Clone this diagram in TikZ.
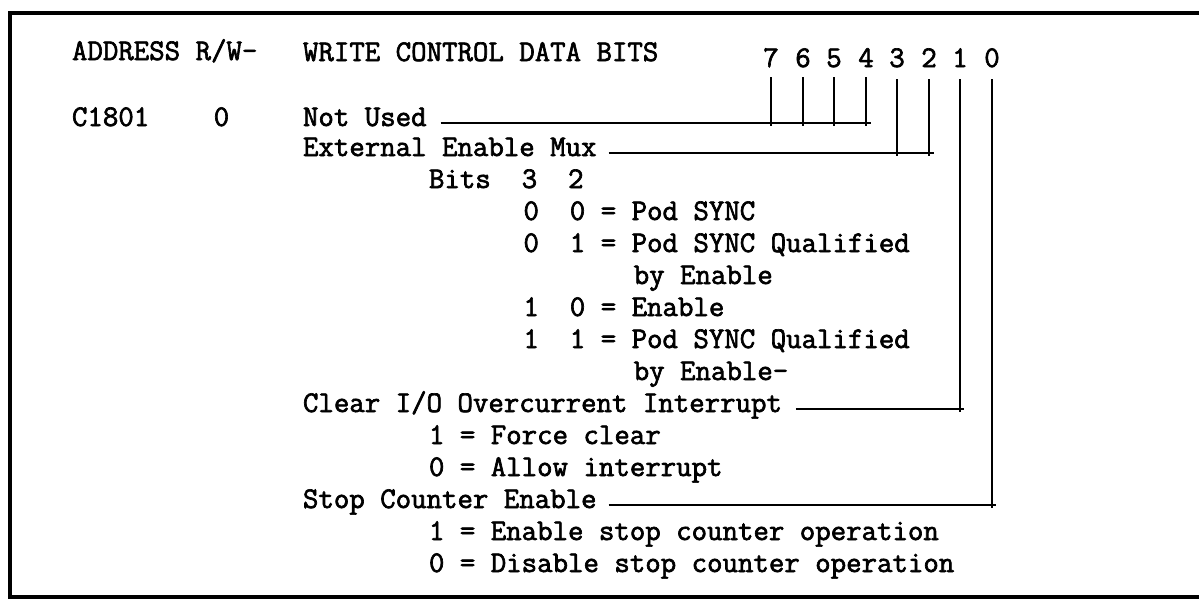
\documentclass[tikz,border=0pt]{standalone}
\usepackage{fontspec}
\newfontfamily\typew[FakeBold=2.2]{Latin Modern Mono}
\begin{document}
\begin{tikzpicture}[x=1pt,y=-1pt,
  txt/.style={anchor=base west,inner sep=0pt,outer sep=0pt,font=\typew\fontsize{30}{36}\selectfont},
  bitno/.style={anchor=base,inner sep=0pt,outer sep=0pt,font=\typew\fontsize{30}{36}\selectfont},
  wire/.style={line width=2.8pt},
  frame/.style={line width=3.4pt}]
\useasboundingbox (0,0) rectangle (1199,608);
\clip (0,0) rectangle (1199,608);
\def\p{15.75}
\def\xo{303}
% frame (right side lies outside the picture)
\draw[frame] (1210,13) -- (10,13) -- (10,597) -- (1210,597);
% header
\node[txt] (addr) at (72,60) {ADDRESS R/W-};
\node[txt] (wcdb) at (\xo,61) {WRITE CONTROL DATA BITS};
\node[bitno] (b7) at (771,67) {7};
\node[bitno] (b6) at (803,67) {6};
\node[bitno] (b5) at (834,67) {5};
\node[bitno] (b4) at (866,67) {4};
\node[bitno] (b3) at (897,67) {3};
\node[bitno] (b2) at (929,67) {2};
\node[bitno] (b1) at (960,67) {1};
\node[bitno] (b0) at (992,67) {0};
% body
\node[txt] (adr) at (72,126) {C1801};
\node[txt] (rwv) at ({72+9*\p},126) {0};
\node[txt] (nu) at (\xo,126) {Not Used};
\node[txt] (eem) at (\xo,156) {External Enable Mux};
\node[txt] (bits) at ({\xo+8*\p},188) {Bits\ \ 3\ \ 2};
\node[txt] (m00) at ({\xo+14*\p},220) {0\ \ 0 = Pod SYNC};
\node[txt] (m01) at ({\xo+14*\p},252) {0\ \ 1 = Pod SYNC Qualified};
\node[txt] (m01b) at ({\xo+21*\p},284) {by Enable};
\node[txt] (m10) at ({\xo+14*\p},316) {1\ \ 0 = Enable};
\node[txt] (m11) at ({\xo+14*\p},348) {1\ \ 1 = Pod SYNC Qualified};
\node[txt] (m11b) at ({\xo+21*\p},380) {by Enable-};
\node[txt] (clr) at (\xo,412) {Clear I/O Overcurrent Interrupt};
\node[txt] (clr1) at ({\xo+8*\p},444) {1 = Force clear};
\node[txt] (clr0) at ({\xo+8*\p},476) {0 = Allow interrupt};
\node[txt] (stp) at (\xo,508) {Stop Counter Enable};
\node[txt] (stp1) at ({\xo+8*\p},540) {1 = Enable stop counter operation};
\node[txt] (stp0) at ({\xo+8*\p},572) {0 = Disable stop counter operation};
% line start points
\coordinate (nuL) at ([xshift=14pt,yshift=3pt]nu.base east);
\coordinate (eemL) at ([xshift=12pt,yshift=3pt]eem.base east);
\coordinate (clrL) at ([xshift=14pt,yshift=3pt]clr.base east);
\coordinate (stpL) at ([xshift=12pt,yshift=3pt]stp.base east);
% connectors
\draw[wire] (nuL) -- ([xshift=5pt]nuL -| b4);
\foreach \b in {b7,b6,b5,b4}
  \draw[wire] ([yshift=-10pt]\b.base) -- ([yshift=-3pt]\b |- nuL);
\draw[wire] (eemL) -- ([xshift=5pt]eemL -| b2);
\foreach \b in {b3,b2}
  \draw[wire] ([yshift=-12pt]\b.base) -- ([yshift=-3pt]\b |- eemL);
\draw[wire] (clrL) -- ([xshift=4pt]clrL -| b1);
\draw[wire] ([yshift=-12pt]b1.base) -- ([yshift=-3pt]b1 |- clrL);
\draw[wire] (stpL) -- ([xshift=4pt]stpL -| b0);
\draw[wire] ([yshift=-12pt]b0.base) -- ([yshift=-3pt]b0 |- stpL);
\end{tikzpicture}
\end{document}
